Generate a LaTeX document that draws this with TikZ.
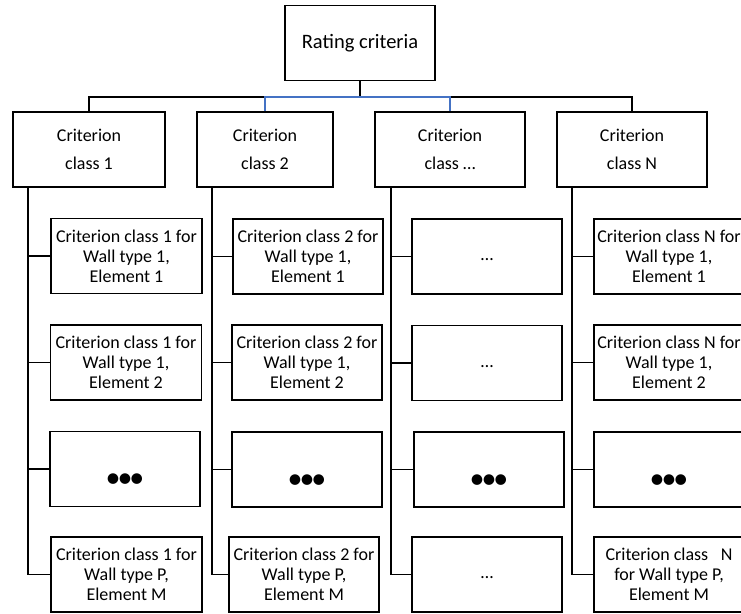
\documentclass[tikz,border=0pt]{standalone}
\usepackage{fontspec}
\setmainfont{Carlito}
\begin{document}
\begin{tikzpicture}[x=1pt,y=-1pt,
  line width=1.4pt,
  box/.style={draw=black, line width=1.4pt, rectangle, inner sep=0pt, align=center,
    minimum width=150pt, minimum height=75pt,
    font=\fontsize{18}{20}\selectfont},
  classbox/.style={box, font=\fontsize{18}{28}\selectfont},
  rootbox/.style={box, font=\fontsize{20.5}{24}\selectfont},
  link/.style={draw=black, line width=1.4pt},
  bluelink/.style={draw=officeblue, line width=1.4pt},
  bigdots/.style={font=\fontsize{30}{30}\selectfont, yshift=-12pt}
]
\definecolor{officeblue}{RGB}{68,114,196}
\useasboundingbox (0,0) rectangle (741,613);

% top level
\node[rootbox] (root) at (360,43) {Rating criteria};

% criterion classes
\node[classbox, minimum width=152pt] (c1) at (89,149.5) {Criterion\\class 1};
\node[classbox, minimum width=136pt] (c2) at (265,149.5) {Criterion\\class 2};
\node[classbox] (c3) at (450,149.5) {Criterion\\class \ldots};
\node[classbox] (c4) at (632,149.5) {Criterion\\class N};

% bus from the root to the classes
\coordinate (j) at (360,97);
\draw[link] (root.south) -- (j);
\draw[link] (c1.north) |- (c2.north |- j);
\draw[link] (c4.north) |- (c3.north |- j);
\draw[bluelink] (c2.north) |- (c3.north |- j) -- (c3.north);

% column 1
\node[box, minimum width=151pt] (a1) at (126.5,256) {Criterion class 1 for\\Wall type 1,\\Element 1};
\node[box, minimum width=151pt] (a2) at (126,362.5) {Criterion class 1 for\\Wall type 1,\\Element 2};
\node[box] (a3) at (125,469) {};
\node[bigdots] (a3t) at (a3) {•\kern-3pt•\kern-3pt•};
\node[box, minimum width=151pt] (a4) at (126.5,574.5) {Criterion class 1 for\\Wall type P,\\Element M};

% column 2
\node[box] (b1) at (308,256.5) {Criterion class 2 for\\Wall type 1,\\Element 1};
\node[box] (b2) at (307,362.5) {Criterion class 2 for\\Wall type 1,\\Element 2};
\node[box] (b3) at (307,469.5) {};
\node[bigdots] (b3t) at (b3) {•\kern-3pt•\kern-3pt•};
\node[box] (b4) at (304,574.5) {Criterion class 2 for\\Wall type P,\\Element M};

% column 3
\node[box] (d1) at (487,256.5) {\vphantom{Ag}…};
\node[box] (d2) at (487,363) {\vphantom{Ag}…};
\node[box] (d3) at (489,469.5) {};
\node[bigdots] (d3t) at (d3) {•\kern-3pt•\kern-3pt•};
\node[box] (d4) at (487,574.5) {\vphantom{Ag}…};

% column 4
\node[box] (e1) at (669,256.5) {Criterion class N for\\Wall type 1,\\Element 1};
\node[box] (e2) at (669,362.5) {Criterion class N for\\Wall type 1,\\Element 2};
\node[box] (e3) at (669,469.5) {};
\node[bigdots] (e3t) at (e3) {•\kern-3pt•\kern-3pt•};
\node[box] (e4) at (669,574.5) {Criterion class\hspace{0.7em}N\\for Wall type P,\\Element M};

% spines under each class
\coordinate (s1) at (28,187);
\coordinate (s2) at (212,187);
\coordinate (s3) at (391,187);
\coordinate (s4) at (572,187);

\draw[link] (s1) |- (a4.west);
\foreach \n in {a1,a2,a3} \draw[link] (s1 |- \n.west) -- (\n.west);
\draw[link] (s2) |- (b4.west);
\foreach \n in {b1,b2,b3} \draw[link] (s2 |- \n.west) -- (\n.west);
\draw[link] (s3) |- (d4.west);
\foreach \n in {d1,d2,d3} \draw[link] (s3 |- \n.west) -- (\n.west);
\draw[link] (s4) |- (e4.west);
\foreach \n in {e1,e2,e3} \draw[link] (s4 |- \n.west) -- (\n.west);
\end{tikzpicture}
\end{document}
